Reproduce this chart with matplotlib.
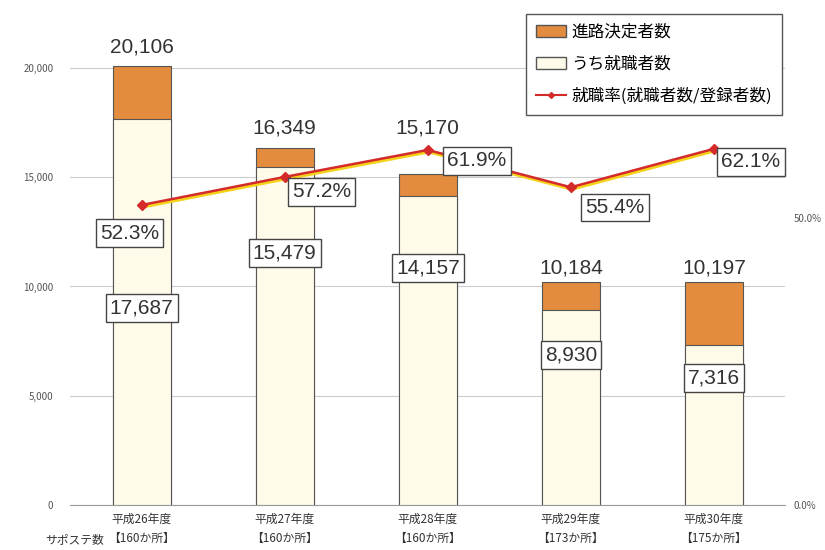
import matplotlib
matplotlib.use("Agg")
import matplotlib.pyplot as plt
import matplotlib.transforms as mtransforms
from matplotlib.patches import Patch
from matplotlib.lines import Line2D
import numpy as np

plt.rcParams['font.family'] = ['Noto Sans CJK JP', 'DejaVu Sans']

# data
years = ['平成26年度', '平成27年度', '平成28年度', '平成29年度', '平成30年度']
sites = ['【160か所】', '【160か所】', '【160か所】', '【173か所】', '【175か所】']
decided = [20106, 16349, 15170, 10184, 10197]   # 進路決定者数
employed = [17687, 15479, 14157, 8930, 7316]    # うち就職者数
rate = [52.3, 57.2, 61.9, 55.4, 62.1]           # 就職率 (%)

# label placement (layout only)
total_offsets = [9, 10, 36, 5, 5]
inner_label_y = [9016, 11533, 10847, 6865, 5812]
rate_offsets = [(-12, -28), (37, -15), (49, -11), (44, -20), (37, -13)]

orange = '#E38B3E'
cream = '#FFFBEA'
numfont = ['Liberation Sans', 'DejaVu Sans']

fig = plt.figure(figsize=(8.25, 5.5), dpi=100)
ax = fig.add_axes([0.085, 0.082, 0.867, 0.834])
x = np.arange(len(years))
w = 0.405

ax.bar(x, decided, w, color=orange, edgecolor='#555555', linewidth=0.8, zorder=2)
ax.bar(x, employed, w, color=cream, edgecolor='#555555', linewidth=0.8, zorder=3)

ax.set_xlim(-0.5, 4.5)
ax.set_ylim(0, 21000)
ax.set_yticks([0, 5000, 10000, 15000, 20000])
ax.set_yticklabels(['0', '5,000', '10,000', '15,000', '20,000'])
ax.yaxis.grid(True, color='#cccccc', linewidth=0.8, zorder=0)
ax.set_axisbelow(True)
for s in ['top', 'right', 'left']:
    ax.spines[s].set_visible(False)
ax.spines['bottom'].set_color('#999999')
ax.tick_params(axis='y', length=0, labelsize=7, labelcolor='#555555', pad=12)
ax.set_xticks(x)
ax.set_xticklabels([a + '\n' + b for a, b in zip(years, sites)], fontsize=8.5, color='#333333',
                   linespacing=1.55)
ax.tick_params(axis='x', length=0, pad=6)
fig.text(0.055, 0.007, 'サポステ数', fontsize=8.5, color='#333333', ha='left', va='bottom')

for i in range(len(x)):
    ax.annotate(f'{decided[i]:,}', (x[i], decided[i]), xytext=(0, total_offsets[i]),
                textcoords='offset pixels', ha='center', va='bottom', fontsize=15,
                color='#333333', zorder=5, family=numfont)
    ax.text(x[i], inner_label_y[i], f'{employed[i]:,}', ha='center', va='center', fontsize=15,
            color='#333333', zorder=6, family=numfont,
            bbox=dict(boxstyle='square,pad=0.2', facecolor='white', edgecolor='#444444', linewidth=1))

ax2 = ax.twinx()
ax2.set_ylim(0, 80)
ax2.set_yticks([0, 50])
ax2.set_yticklabels(['0.0%', '50.0%'])
ax2.tick_params(axis='y', length=0, labelsize=7, labelcolor='#555555', pad=6)
for s in ['top', 'right', 'left', 'bottom']:
    ax2.spines[s].set_visible(False)

shadow = mtransforms.offset_copy(ax2.transData, fig=fig, x=1, y=-2, units='dots')
ax2.plot(x, rate, color='#F5D21A', linewidth=2.2, transform=shadow, zorder=3)
ax2.plot(x, rate, color='#D42A2A', linewidth=1.8, marker='D', markersize=5, zorder=4)

for i in range(len(x)):
    ax2.annotate(f'{rate[i]}%', (x[i], rate[i]), xytext=rate_offsets[i], textcoords='offset pixels',
                 ha='center', va='center', fontsize=15, color='#333333', zorder=6, family=numfont,
                 bbox=dict(boxstyle='square,pad=0.2', facecolor='white', edgecolor='#444444', linewidth=1))

handles = [Patch(facecolor=orange, edgecolor='#555555'),
           Patch(facecolor=cream, edgecolor='#555555'),
           Line2D([0], [0], color='#D42A2A', marker='D', markersize=3, linewidth=1.5)]
labels = ['進路決定者数', 'うち就職者数', '就職率(就職者数/登録者数)']
fig.legend(handles, labels, loc='upper left', bbox_to_anchor=(0.628, 0.99), fontsize=12,
           frameon=True, fancybox=False, edgecolor='#555555', labelspacing=0.9,
           handlelength=1.8, handletextpad=0.3, borderpad=0.6, framealpha=1)

fig.savefig('out.png', dpi=100)
